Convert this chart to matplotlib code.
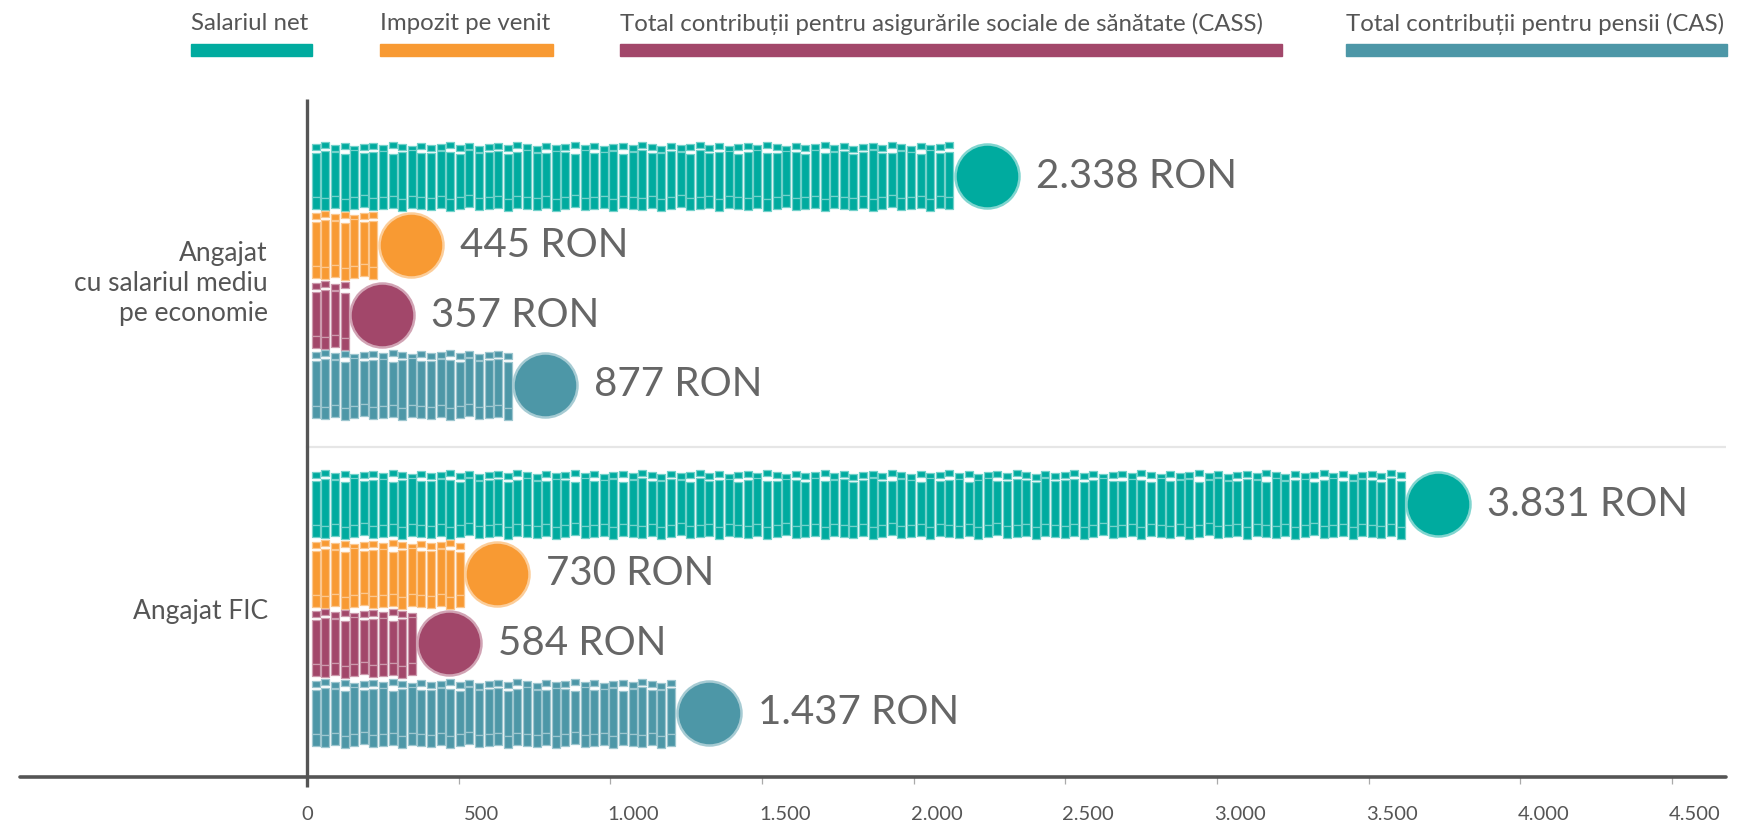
import numpy as np
import matplotlib
matplotlib.use("Agg")
import matplotlib.pyplot as plt
from matplotlib.patches import Rectangle
from matplotlib.collections import PatchCollection
from matplotlib.colors import to_rgb
from matplotlib.ticker import FuncFormatter

# --- data ---------------------------------------------------------------
groups = ["Angajat\ncu salariul mediu\npe economie", "Angajat FIC"]
series = ["Salariul net", "Impozit pe venit",
          "Total contribuții pentru asigurările sociale de sănătate (CASS)",
          "Total contribuții pentru pensii (CAS)"]
salariul_net = [2338, 3831]
impozit_venit = [445, 730]
cass = [357, 584]
cas = [877, 1437]
xticks = [0, 500, 1000, 1500, 2000, 2500, 3000, 3500, 4000, 4500]

values = [salariul_net, impozit_venit, cass, cas]
colors = ["#00ab9f", "#f89a33", "#a2476a", "#4d97a7"]

# --- layout (pixels) ---------------------------------------------------
W, H = 1761, 830
plt.rcParams['font.family'] = ['Lato', 'DejaVu Sans']
TXT = "#555555"

fig = plt.figure(figsize=(W / 100, H / 100), dpi=100)
ax_l, ax_r, ax_t, ax_b = 20, 1726, 99, 777
ax = fig.add_axes([ax_l / W, 1 - ax_b / H, (ax_r - ax_l) / W, (ax_b - ax_t) / H])

sx = 0.3033                      # px per RON
x0_px = 307
ax.set_xlim((ax_l - x0_px) / sx, (ax_r - x0_px) / sx)
ax.set_ylim(ax_b, ax_t)          # y in pixel rows, growing downwards

first_row, row_step, group_step = 176, 69.5, 328
r_px = 32
r_x = r_px / sx
pitch = 9.6 / sx
col_w = 8.0 / sx
start = 16.0

# small fixed wobble used for the column pieces
top_jit = [0, -2, 1, -1, 2, 0, -1, 1, -2, 0, 2, -1, 1]
mid_jit = [1, -1, 0, 2, -2, 1, 0, -1, 2, 0, -2, 1]
bot_jit = [0, 1, -1, 2, 0, -2, 1, 0, -1, 2, -1]


def tint(c, f=0.45):
    r, g, b = to_rgb(c)
    return (r + (1 - r) * f, g + (1 - g) * f, b + (1 - b) * f)


for g in range(len(groups)):
    for s, (vals, col) in enumerate(zip(values, colors)):
        v = vals[g]
        yc = first_row + g * group_step + s * row_step
        ncol = int(round((v - 2 * r_x - start) / pitch))
        rects = []
        for k in range(ncol):
            xk = start + k * pitch
            t = top_jit[k % len(top_jit)]
            m = mid_jit[k % len(mid_jit)]
            b = bot_jit[k % len(bot_jit)]
            rects.append(Rectangle((xk, yc - 32 + t), col_w, 6))
            rects.append(Rectangle((xk, yc - 24 + m), col_w, 45 - m + b))
            rects.append(Rectangle((xk, yc + 21 + b), col_w, 12))
        pc = PatchCollection(rects, facecolor=col, edgecolor=tint(col),
                             linewidth=0.9, zorder=2)
        ax.add_collection(pc)
        bar_end = start + ncol * pitch
        cx = bar_end + r_x
        ax.scatter([cx], [yc], s=(2 * r_px * 0.72) ** 2, color=col,
                   edgecolor=tint(col, 0.5), linewidth=1.8, zorder=3)
        ax.text(cx + r_x + 17 / sx, yc, f"{v:,}".replace(",", ".") + " RON",
                fontsize=29, color="#666666", va="center", ha="left")

    gy = first_row + g * group_step + 1.5 * row_step
    ax.text(-39 / sx, gy + 3, groups[g], ha="right", va="center",
            fontsize=19, color=TXT, linespacing=1.25)

# separator between groups
ax.plot([0, ax.get_xlim()[1]], [447, 447], color="#e6e6e6", lw=1.6, zorder=1)

# axes lines
ax.plot([0, 0], [ax_b + 10, ax_t], color="#555555", lw=2.4,
        clip_on=False, zorder=4, solid_capstyle="butt")
for sp in ["top", "right", "left"]:
    ax.spines[sp].set_visible(False)
ax.spines["bottom"].set_color("#555555")
ax.spines["bottom"].set_linewidth(2.6)
ax.spines["bottom"].set_capstyle("round")

ax.set_yticks([])
ax.set_xticks(xticks)
ax.xaxis.set_major_formatter(FuncFormatter(lambda v, p: f"{int(v):,}".replace(",", ".")))
ax.tick_params(axis="x", length=5, width=0.9, color="#aaaaaa",
               labelsize=14.5, labelcolor=TXT, pad=16)
off = matplotlib.transforms.ScaledTranslation(0.23, 0, fig.dpi_scale_trans)
for lab in ax.get_xticklabels()[1:]:
    lab.set_transform(lab.get_transform() + off)

# legend (figure level)
leg_x0 = [191, 380, 620, 1346]
leg_x1 = [312, 553, 1282, 1727]
for name, col, a, b in zip(series, colors, leg_x0, leg_x1):
    fig.text(a / W, 1 - 24 / H, name, ha="left", va="center",
             fontsize=17.3, color=TXT)
    fig.add_artist(Rectangle((a / W, 1 - 56 / H), (b - a) / W, 12 / H,
                             transform=fig.transFigure, color=col))

fig.savefig("out.png", dpi=100)
